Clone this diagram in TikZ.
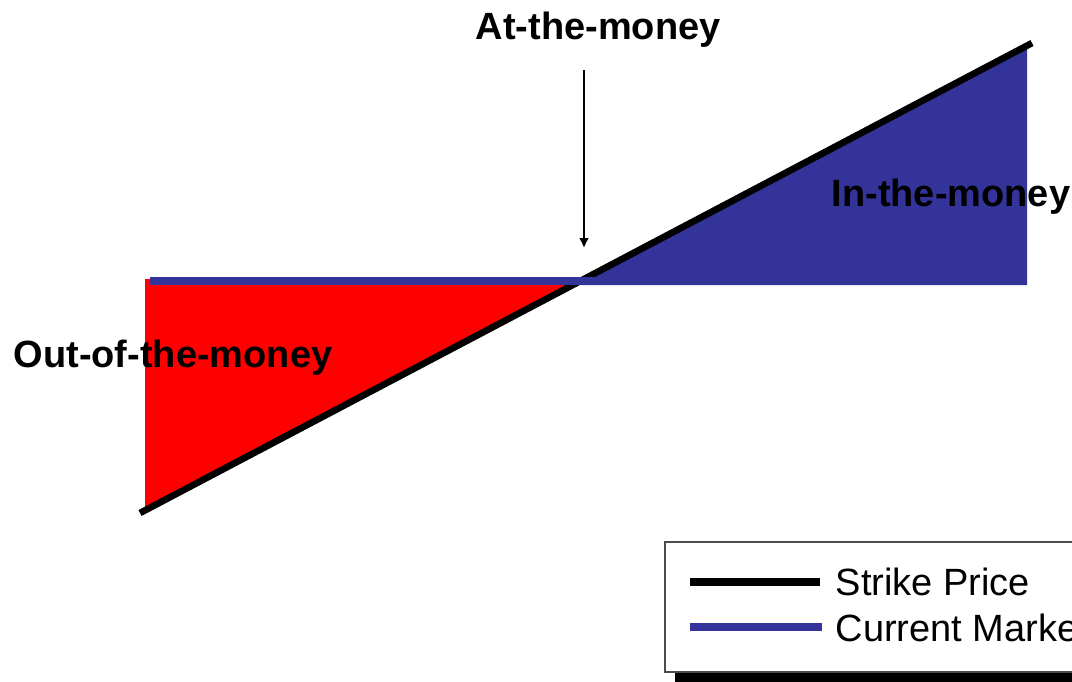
\documentclass[tikz,border=0pt]{standalone}
\usepackage{fontspec}
\setmainfont{Liberation Sans}
\usetikzlibrary{arrows.meta}
\definecolor{mktblue}{RGB}{51,51,153}
\tikzset{
  moneylbl/.style={font=\bfseries\fontsize{10.8}{13}\selectfont, inner sep=0pt},
  keylbl/.style={font=\fontsize{10.8}{13}\selectfont, inner sep=0pt},
  strike/.style={line width=1.9pt, black},
  market/.style={line width=2pt, mktblue}
}
\begin{document}
\begin{tikzpicture}[x=0.01cm, y=-0.01cm]
\useasboundingbox (0,0) rectangle (1072,681);
\coordinate (lo) at (140,513);
\coordinate (hi) at (1032,43);
\coordinate (atm) at (582,281);
\fill[red] (145,279) -- (145,511) -- (atm) -- cycle;
\fill[mktblue] (atm) -- (1027,46) -- (1027,285) -- (582,285) -- cycle;
\draw[strike] (lo) -- (hi);
\coordinate (mktl) at (150,281);
\coordinate (mktr) at (1027,281);
\draw[market] (mktl) -- (mktr);
% labels
\node[moneylbl, anchor=base west] (atmlbl) at (475,39) {At-the-money};
\node[moneylbl, anchor=base west] (itmlbl) at (831,206) {In-the-money};
\node[moneylbl, anchor=base west] (otmlbl) at (13,367) {Out-of-the-money};
\coordinate (arrtop) at (584,70);
\coordinate (arrtip) at (584,248);
\draw[line width=0.7pt, -{Latex[length=1mm, width=1mm]}] (arrtop) -- (arrtip);
% legend
\fill[black] (675,672) rectangle (1090,700);
\draw[line width=0.4pt, black!70, fill=white] (665,542) rectangle (1090,672);
\coordinate (k1a) at (690,582); \coordinate (k1b) at (820,582);
\coordinate (k2a) at (690,627); \coordinate (k2b) at (822,627);
\draw[strike, line width=2pt] (k1a) -- (k1b);
\draw[market] (k2a) -- (k2b);
\node[keylbl, anchor=base west] (k1lbl) at (835,595) {Strike Price};
\node[keylbl, anchor=base west] (k2lbl) at (835,641) {Current Market};
\end{tikzpicture}
\end{document}
